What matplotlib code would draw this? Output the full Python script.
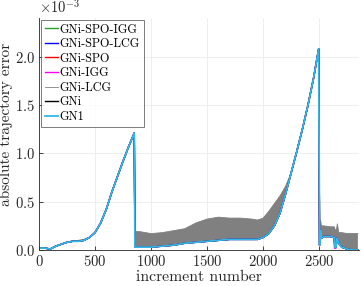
import numpy as np
import matplotlib
matplotlib.use("Agg")
import matplotlib.pyplot as plt
from matplotlib.ticker import ScalarFormatter

nan = float("nan")

# ---- data (values in units of 1e-3) ----
base_x = [0, 50, 100, 150, 200, 250, 300, 350, 400, 450, 500, 550, 600, 650, 700,
          750, 800, 850, 856, 900, 1000, 1100, 1200, 1300, 1400, 1500, 1600, 1700,
          1800, 1900, 1950, 2000, 2050, 2100, 2150, 2200, 2250, 2300, 2350, 2400,
          2450, 2495, 2503, 2508, 2513, 2520, 2540, 2600, 2635, 2640, 2650, 2658,
          2665, 2680, 2700, 2750, 2800, 2845]
base_y = [0.02, 0.02, 0.01, 0.04, 0.06, 0.08, 0.09, 0.09, 0.10, 0.13, 0.18, 0.28,
          0.42, 0.60, 0.76, 0.92, 1.07, 1.21, 0.03, 0.03, 0.03, 0.04, 0.05, 0.07,
          0.08, 0.09, 0.10, 0.11, 0.11, 0.11, 0.11, 0.13, 0.17, 0.25, 0.38, 0.58,
          0.80, 1.02, 1.25, 1.50, 1.78, 2.08, 0.05, 0.10, 0.20, 0.12, 0.14, 0.14,
          0.13, 0.03, 0.03, 0.12, 0.10, 0.06, 0.03, 0.01, 0.00, 0.00]
magenta_dip_x = [2600, 2630, 2638, 2648, 2656, 2665]
magenta_dip_y = [0.14, 0.13, 0.02, 0.02, 0.09, 0.10]

# GNi-LCG oscillation band (lower/upper envelope), NaN separates segments
gray_x = [300, 350, 400, 450, 500, nan,
          856, 870, 900, 1000, 1100, 1200, 1300, 1400, 1500, 1600, 1700, 1800,
          1900, 1950, 2000, 2050, 2100, 2150, 2200, 2250, nan,
          2508, 2512, 2520, 2540, 2600, 2635, 2645, 2655, 2662, 2675, 2700, 2750,
          2800, 2845]
gray_lo = [0.09, 0.09, 0.10, 0.13, 0.18, nan,
           0.03, 0.03, 0.03, 0.03, 0.04, 0.05, 0.07, 0.08, 0.09, 0.10, 0.11, 0.11,
           0.11, 0.11, 0.13, 0.17, 0.25, 0.38, 0.58, 0.80, nan,
           0.10, 0.15, 0.12, 0.14, 0.14, 0.13, 0.03, 0.03, 0.10, 0.08, 0.03, 0.01,
           0.00, 0.00]
gray_hi = [0.09, 0.10, 0.11, 0.13, 0.18, nan,
           0.20, 0.19, 0.19, 0.17, 0.18, 0.20, 0.22, 0.28, 0.32, 0.34, 0.33, 0.33,
           0.32, 0.31, 0.33, 0.40, 0.48, 0.56, 0.66, 0.80, nan,
           0.20, 0.31, 0.25, 0.25, 0.24, 0.24, 0.20, 0.22, 0.27, 0.18, 0.18, 0.17,
           0.17, 0.17]

labels = ["GNi-SPO-IGG", "GNi-SPO-LCG", "GNi-SPO", "GNi-IGG", "GNi-LCG", "GNi", "GN1"]
colors = ["#2ca02c", "#0000ff", "#ff0000", "#ff00ff", "#808080", "#000000", "#33b8ea"]

plt.rcParams['font.family'] = ['cmr10', 'DejaVu Serif']
plt.rcParams['mathtext.fontset'] = 'cm'
plt.rcParams['axes.formatter.use_mathtext'] = True

fig = plt.figure(figsize=(3.61, 2.86), dpi=100)
ax = fig.add_axes([39/361, 36/286, 320/361, 232/286])

bx = np.array(base_x)
by = np.array(base_y) * 1e-3

ax.plot(bx, by, color=colors[0], lw=1.0, label=labels[0])
ax.plot(bx, by, color=colors[1], lw=1.0, label=labels[1])
ax.plot(bx, by, color=colors[2], lw=1.0, label=labels[2])
ax.plot(magenta_dip_x, np.array(magenta_dip_y) * 1e-3, color=colors[3], lw=1.2)
ax.plot(bx, by, color=colors[3], lw=1.0, label=labels[3])
gx = np.array(gray_x)
ax.fill_between(gx, np.array(gray_lo) * 1e-3, np.array(gray_hi) * 1e-3,
                color="#808080", lw=0)
ax.plot(gx, np.array(gray_hi) * 1e-3, color=colors[4], lw=0.6, label=labels[4])
ax.plot(bx, by, color=colors[5], lw=1.0, label=labels[5])
ax.plot(bx, by, color=colors[6], lw=1.3, label=labels[6])

ax.set_xlim(0, 2855)
ax.set_ylim(0, 2.4e-3)
ax.set_xticks([0, 500, 1000, 1500, 2000, 2500])
ax.set_yticks([0, 0.5e-3, 1e-3, 1.5e-3, 2e-3])
fmt = ScalarFormatter(useMathText=True)
fmt.set_powerlimits((-2, 2))
ax.yaxis.set_major_formatter(fmt)
ax.yaxis.get_offset_text().set_fontsize(10.5)
ax.yaxis.get_offset_text().set_color("#262626")

ax.grid(True, color="#ebebeb", lw=0.6)
ax.set_axisbelow(True)
for s in ["top", "right"]:
    ax.spines[s].set_visible(False)
for s in ["left", "bottom"]:
    ax.spines[s].set_color("#262626")
    ax.spines[s].set_linewidth(0.6)
ax.tick_params(direction="in", length=3, width=0.6, labelsize=10.5, colors="#262626",
               pad=3)

ax.set_xlabel("increment number", fontsize=11.3, labelpad=1, color="#262626")
ax.set_ylabel("absolute trajectory error", fontsize=11, color="#262626")
ax.yaxis.set_label_coords(-0.082, 0.54)

leg = ax.legend(loc="upper left", fontsize=8.8, frameon=True, fancybox=False,
                edgecolor="#404040", handlelength=1.1, handletextpad=0.15,
                borderpad=0.3, labelspacing=0.2, borderaxespad=0.15)
leg.get_frame().set_linewidth(0.6)

fig.savefig("out.png", dpi=100)
